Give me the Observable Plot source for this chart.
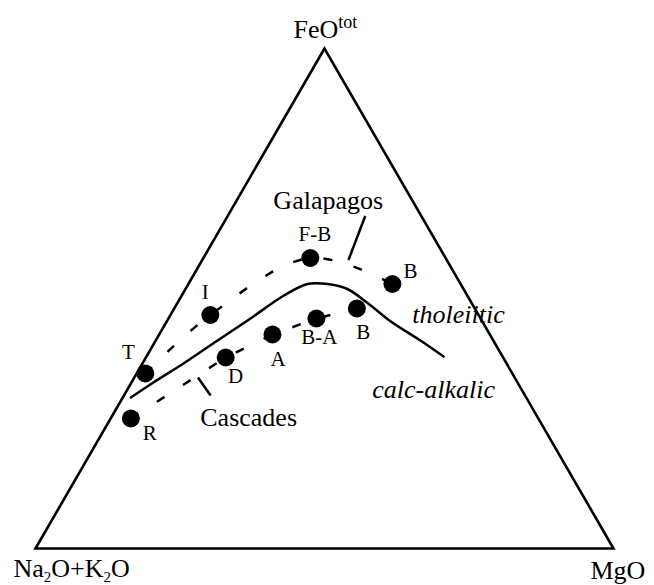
<!DOCTYPE html>
<html>
<head>
<meta charset="utf-8">
<script src="https://cdn.jsdelivr.net/npm/d3@7"></script>
<script src="https://cdn.jsdelivr.net/npm/@observablehq/plot@0.6"></script>
<style>
  html, body { margin: 0; padding: 0; background: #fff; }
</style>
</head>
<body>
<div id="chart"></div>
<script>
// AFM ternary diagram, compositions in wt%:
// A = Na2O+K2O (left corner), F = FeOtot (top), M = MgO (right corner)

// Cascades suite: rhyolite, dacite, andesite, basaltic andesite, basalt
const cascadesNames = ["R", "D", "A", "B-A", "B"];
const cascadesA = [70.5, 48.0, 37.6, 28.4, 20.4];
const cascadesF = [26.0, 38.2, 42.8, 46.0, 48.0];
const cascadesM = [3.5, 13.8, 19.6, 25.6, 31.6];

// Galapagos suite: trachyte, icelandite, ferrobasalt, basalt
const galapagosNames = ["T", "I", "F-B", "B"];
const galapagosA = [63.5, 46.4, 23.4, 11.8];
const galapagosF = [35.0, 46.7, 58.1, 52.9];
const galapagosM = [1.5, 6.9, 18.5, 35.3];

// tholeiitic / calc-alkalic dividing line (F and M; A is the remainder)
const boundaryF = [30.2, 33.2, 37.0, 41.6, 46.0, 50.5, 52.9, 52.9, 51.9, 49.1, 45.5, 41.6, 38.4];
const boundaryM = [1.4, 3.8, 7.1, 10.7, 14.2, 17.6, 20.6, 24.1, 28.0, 32.9, 38.6, 45.8, 51.4];

// leader lines from the suite names to their trends
const galapagosLeaderF = [66.5, 57.7];
const galapagosLeaderM = [23.8, 25.3];
const cascadesLeaderF = [34.2, 30.6];
const cascadesLeaderM = [11.0, 15.0];

// corners of the diagram
const cornerNames = ["Na2O+K2O", "FeOtot", "MgO"];
const cornerA = [100, 0, 0];
const cornerF = [0, 100, 0];
const cornerM = [0, 0, 100];

// ---- ternary -> cartesian (side length 1)
const H = Math.sqrt(3) / 2;
const toXY = (a, f, m) => {
  const s = a + f + m;
  return {x: (m + f / 2) / s, y: (f * H) / s};
};

const corners = cornerNames.map((name, i) => ({name, ...toXY(cornerA[i], cornerF[i], cornerM[i])}));
// walk past the start again so every corner is a line join
const triangle = [corners[0], corners[1], corners[2], corners[0], corners[1]];

const cascades = cascadesNames.map((name, i) => ({name, ...toXY(cascadesA[i], cascadesF[i], cascadesM[i])}));
const galapagos = galapagosNames.map((name, i) => ({name, ...toXY(galapagosA[i], galapagosF[i], galapagosM[i])}));
const boundary = boundaryF.map((f, i) => toXY(100 - f - boundaryM[i], f, boundaryM[i]));
const leaders = [
  ...galapagosLeaderF.map((f, i) => ({g: "galapagos", ...toXY(100 - f - galapagosLeaderM[i], f, galapagosLeaderM[i])})),
  ...cascadesLeaderF.map((f, i) => ({g: "cascades", ...toXY(100 - f - cascadesLeaderM[i], f, cascadesLeaderM[i])}))
];

// label placement around each point, in pixels
const cascadesLabelShift = [[19, 15], [10, 19], [5.5, 25], [3, 18.5], [6.5, 23.5]];
const galapagosLabelShift = [[-17, -21.5], [-5, -23], [4.5, -23.5], [18, -12.5]];

const serif = "'Liberation Serif', 'Times New Roman', Times, serif";
const ink = "#000";

const pointLabels = (rows, shifts) =>
  rows.map((d, i) =>
    Plot.text([d], {
      x: "x", y: "y", text: "name",
      dx: shifts[i][0], dy: shifts[i][1],
      fontSize: 21, fontFamily: serif, fill: ink
    })
  );

const bigText = (datum, text, dx, dy, extra = {}) =>
  Plot.text([datum], {
    x: "x", y: "y", text: () => text,
    dx, dy, lineAnchor: "bottom",
    fontSize: 26, fontFamily: serif, fill: ink, ...extra
  });

const gTop = leaders[0];
const cBottom = leaders[3];
const boundaryEnd = boundary[boundary.length - 1];

const chart = Plot.plot({
  width: 654,
  height: 585,
  marginLeft: 35,
  marginRight: 41,
  marginTop: 48,
  marginBottom: 37,
  x: {domain: [0, 1], axis: null},
  y: {domain: [0, H], axis: null},
  style: {background: "#fff", fontFamily: serif, overflow: "visible"},
  marks: [
    Plot.line(triangle, {x: "x", y: "y", stroke: ink, strokeWidth: 2.6, strokeLinejoin: "miter", strokeMiterlimit: 10}),
    Plot.line(boundary, {x: "x", y: "y", curve: "catmull-rom", stroke: ink, strokeWidth: 2.5}),
    Plot.line(galapagos, {x: "x", y: "y", curve: "catmull-rom", stroke: ink, strokeWidth: 2.5,
      strokeDasharray: "9,22", strokeLinecap: "butt"}),
    Plot.line(cascades, {x: "x", y: "y", stroke: ink, strokeWidth: 2.5,
      strokeDasharray: "9,22", strokeLinecap: "butt"}),
    Plot.line(leaders, {x: "x", y: "y", z: "g", stroke: ink, strokeWidth: 2.5, strokeLinecap: "butt"}),
    Plot.dot([...cascades, ...galapagos], {x: "x", y: "y", r: 9, fill: ink, stroke: null}),
    ...pointLabels(cascades, cascadesLabelShift),
    ...pointLabels(galapagos, galapagosLabelShift),
    bigText(gTop, "Galapagos", -37, -7),
    bigText(cBottom, "Cascades", 38, 30),
    bigText(boundaryEnd, "tholeiitic", 15, -34, {fontStyle: "italic"}),
    bigText(boundaryEnd, "calc-alkalic", -10, 41, {fontStyle: "italic"}),
    bigText(corners[0], "Na2O+K2O", -22, 28, {textAnchor: "start"}),
    bigText(corners[1], "FeOtot", -31, -11, {textAnchor: "start"}),
    bigText(corners[2], "MgO", -23, 30, {textAnchor: "start"})
  ]
});

// chemical notation: subscripts and superscript in the corner labels
const NS = "http://www.w3.org/2000/svg";
const rich = {
  "Na2O+K2O": [["Na", 0, null], ["2", 5, 15], ["O+K", -5, null], ["2", 5, 15], ["O", -5, null]],
  "FeOtot": [["FeO", 0, null], ["tot", -10, 18]]
};
chart.querySelectorAll("text").forEach((node) => {
  const parts = rich[node.textContent];
  if (!parts) return;
  node.textContent = "";
  for (const [s, shift, size] of parts) {
    const t = document.createElementNS(NS, "tspan");
    t.textContent = s;
    if (shift) t.setAttribute("dy", shift);
    if (size) t.setAttribute("font-size", size);
    node.appendChild(t);
  }
});

document.getElementById("chart").appendChild(chart);
</script>
</body>
</html>
